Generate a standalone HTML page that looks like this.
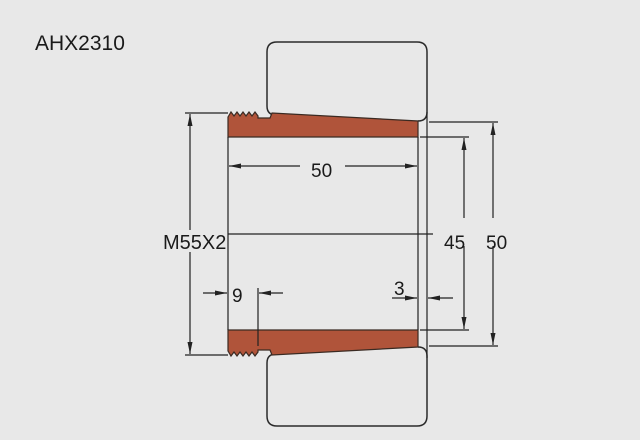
<!DOCTYPE html>
<html><head><style>
html,body{margin:0;padding:0;background:#e8e8e8;}
svg{display:block}
text{font-family:"Liberation Sans","DejaVu Sans",sans-serif;fill:#1a1a1a}
</style></head><body>
<svg width="640" height="440" viewBox="0 0 640 440" xmlns="http://www.w3.org/2000/svg">
<defs>
<marker id="a" viewBox="0 0 12 6" refX="12" refY="3" markerWidth="12" markerHeight="6" orient="auto" markerUnits="userSpaceOnUse">
<path d="M0,0.5 L12,3 L0,5.5 z" fill="#222"/></marker>
</defs>
<rect width="640" height="440" fill="#e8e8e8"/>
<text x="35" y="50" font-size="21">AHX2310</text>
<g fill="none" stroke="#2a2a2a" stroke-width="1.5">
<path d="M276,115 Q267,115 267,106 L267,52 Q267,42 277,42 L417,42 Q427,42 427,52 L427,112 Q427,121 418,121"/>
<path d="M276,354 Q267,354 267,363 L267,416 Q267,426 277,426 L417,426 Q427,426 427,416 L427,356 Q427,347 418,347"/>
</g>
<path d="M228,117 L231,112 L234,116 L237,112 L240,116 L243,112 L246,116 L249,112 L252,116 L255,112 L258,116 L258,118 L270,118 L272,113 L418,121 L418,137 L228,137 Z" fill="#b0543a" stroke="#3a2a22" stroke-width="1.2"/>
<path d="M228,351 L231,356 L234,352 L237,356 L240,352 L243,356 L246,352 L249,356 L252,352 L255,356 L258,352 L258,350 L270,350 L272,355 L418,347 L418,330 L228,330 Z" fill="#b0543a" stroke="#3a2a22" stroke-width="1.2"/>
<g stroke="#222" stroke-width="1.2" fill="none">
<line x1="228" y1="137" x2="228" y2="330"/>
<line x1="418" y1="137" x2="418" y2="330"/>
<line x1="427" y1="112" x2="427" y2="358"/>
<line x1="228" y1="234" x2="433" y2="234"/>
<line x1="185" y1="113" x2="228" y2="113"/>
<line x1="185" y1="355" x2="228" y2="355"/>
<line x1="190" y1="230" x2="190" y2="114" marker-end="url(#a)"/>
<line x1="190" y1="252" x2="190" y2="354" marker-end="url(#a)"/>
<line x1="300" y1="166" x2="229" y2="166" marker-end="url(#a)"/>
<line x1="345" y1="166" x2="417" y2="166" marker-end="url(#a)"/>
<line x1="420" y1="137" x2="469" y2="137"/>
<line x1="420" y1="330" x2="469" y2="330"/>
<line x1="464" y1="218" x2="464" y2="138" marker-end="url(#a)"/>
<line x1="464" y1="246" x2="464" y2="329" marker-end="url(#a)"/>
<line x1="429" y1="122" x2="498" y2="122"/>
<line x1="429" y1="346" x2="498" y2="346"/>
<line x1="493" y1="218" x2="493" y2="123" marker-end="url(#a)"/>
<line x1="493" y1="246" x2="493" y2="345" marker-end="url(#a)"/>
<line x1="203" y1="293" x2="227" y2="293" marker-end="url(#a)"/>
<line x1="258" y1="288" x2="258" y2="346"/>
<line x1="283" y1="293" x2="259" y2="293" marker-end="url(#a)"/>
<line x1="392" y1="298" x2="417" y2="298" marker-end="url(#a)"/>
<line x1="453" y1="298" x2="428" y2="298" marker-end="url(#a)"/>
</g>
<text x="163" y="249" font-size="20">M55X2</text>
<text x="311" y="177" font-size="19">50</text>
<text x="444" y="249" font-size="19">45</text>
<text x="486" y="249" font-size="19">50</text>
<text x="232" y="302" font-size="19">9</text>
<text x="394" y="295" font-size="19">3</text>
</svg>
</body></html>
